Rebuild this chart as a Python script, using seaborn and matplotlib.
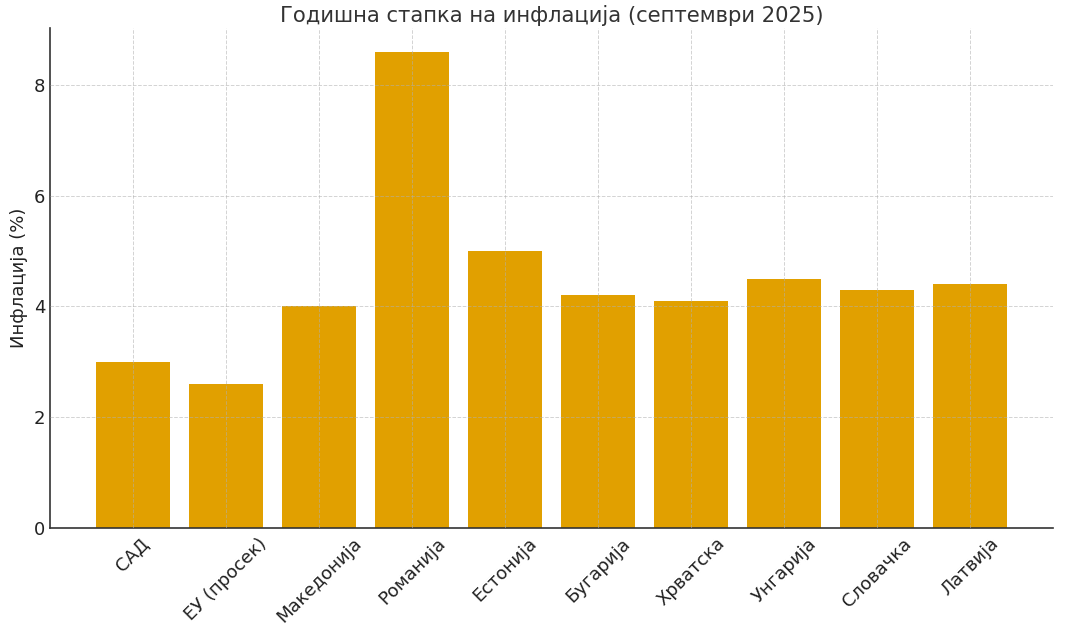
import matplotlib
matplotlib.use("Agg")
import matplotlib.pyplot as plt
import seaborn as sns
import pandas as pd

countries = ["САД", "ЕУ (просек)", "Македонија", "Романија", "Естонија",
             "Бугарија", "Хрватска", "Унгарија", "Словачка", "Латвија"]
inflation = [3.0, 2.6, 4.0, 8.6, 5.0, 4.2, 4.1, 4.5, 4.3, 4.4]

title = "Годишна стапка на инфлација (септември 2025)"
ylabel = "Инфлација (%)"

sns.set_style("white")
plt.rcParams['font.family'] = ['DejaVu Sans']

df = pd.DataFrame({"country": countries, "value": inflation})

fig = plt.figure(figsize=(10.8, 6.34), dpi=100)
ax = fig.add_axes([0.0463, 0.1677, 0.9287, 0.7881])

sns.barplot(data=df, x="country", y="value", color="#E1A000", saturation=1,
            width=0.8, ax=ax, edgecolor="none")

ax.set_xlim(-0.89, 9.89)
ax.set_ylim(0, 9.03)
ax.set_yticks([0, 2, 4, 6, 8])

ax.set_axisbelow(False)
ax.grid(True, which="major", axis="both", linestyle="--", linewidth=0.7,
        color="#b0b0b0", alpha=0.55)

ax.set_title(title, fontsize=15.2, color="#333333", pad=4)
ax.set_ylabel(ylabel, fontsize=13, color="#222222")
ax.set_xlabel("")

for s in ["top", "right"]:
    ax.spines[s].set_visible(False)
for s in ["left", "bottom"]:
    ax.spines[s].set_color("#333333")
    ax.spines[s].set_linewidth(1.2)

ax.tick_params(axis="both", direction="in", length=4, width=1,
               colors="#333333", labelsize=13, labelcolor="#222222")
ax.tick_params(axis="x", pad=5)
plt.setp(ax.get_xticklabels(), rotation=45, ha="center")

fig.savefig("out.png", dpi=100)
